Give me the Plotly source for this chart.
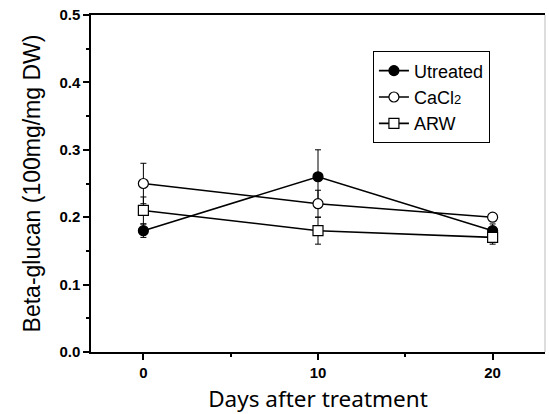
import plotly.graph_objects as go

# Sampling days
days = [0, 10, 20]

# Beta-glucan content (100mg/mg DW) and standard errors per treatment
untreated = [0.18, 0.26, 0.18]
untreated_err = [0.01, 0.04, 0.01]
cacl2 = [0.25, 0.22, 0.20]
cacl2_err = [0.03, 0.02, 0.005]
arw = [0.21, 0.18, 0.17]
arw_err = [0.02, 0.02, 0.01]

series = [
    ("Utreated", untreated, untreated_err, "circle", "black"),
    ("CaCl<span style='font-size:13px'>2</span>", cacl2, cacl2_err, "circle", "white"),
    ("ARW", arw, arw_err, "square", "white"),
]

fig = go.Figure()
for name, vals, errs, sym, fill in series:
    fig.add_trace(go.Scatter(
        x=days, y=vals, name=name, mode="lines+markers",
        line=dict(color="black", width=1.6),
        marker=dict(symbol=sym, size=10, color=fill,
                    line=dict(color="black", width=1.2)),
        error_y=dict(type="data", array=errs, visible=True,
                     color="black", thickness=1, width=3),
    ))

tick_font = dict(family="Arial Black, Liberation Sans, Arial", size=15, color="black", weight=900)

fig.update_layout(
    width=549, height=414,
    margin=dict(l=91, r=4, t=15, b=62),
    plot_bgcolor="white", paper_bgcolor="white",
    showlegend=True,
    legend=dict(
        x=0.621, y=0.892, xanchor="left", yanchor="top",
        bgcolor="white", bordercolor="black", borderwidth=1,
        font=dict(family="Liberation Sans, Arial", size=18, color="black"),
        tracegroupgap=0, itemwidth=30,
    ),
    xaxis=dict(
        range=[-3, 23], tickvals=[0, 10, 20], ticktext=["0", "10", "20"],
        ticks="outside", ticklen=6, tickwidth=1.5, tickcolor="black",
        minor=dict(tickvals=[5, 15], ticks="outside", ticklen=3, tickwidth=1.5, tickcolor="black"),
        showline=True, linecolor="black", linewidth=1.5, mirror=True,
        showgrid=False, zeroline=False, tickfont=tick_font,
        title=dict(text="Days after treatment",
                   font=dict(family="Noto Sans", size=22.5, color="black"), standoff=12),
    ),
    yaxis=dict(
        range=[0, 0.5], tickvals=[0, 0.1, 0.2, 0.3, 0.4, 0.5],
        ticktext=["0.0", "0.1", "0.2", "0.3", "0.4", "0.5"],
        ticks="outside", ticklen=6, tickwidth=1.5, tickcolor="black",
        minor=dict(tickvals=[0.05, 0.15, 0.25, 0.35, 0.45], ticks="outside",
                   ticklen=3, tickwidth=1.5, tickcolor="black"),
        showline=True, linecolor="black", linewidth=1.5, mirror=False,
        showgrid=False, zeroline=False, tickfont=tick_font,
        title=dict(text="Beta-glucan (100mg/mg DW)",
                   font=dict(family="Liberation Sans, Arial", size=23, color="black"), standoff=12),
    ),
    shapes=[dict(type="line", xref="paper", yref="paper", x0=1, x1=1, y0=0, y1=1,
                 line=dict(color="#bbbbbb", width=1))],
)

fig.write_html("out.html")
